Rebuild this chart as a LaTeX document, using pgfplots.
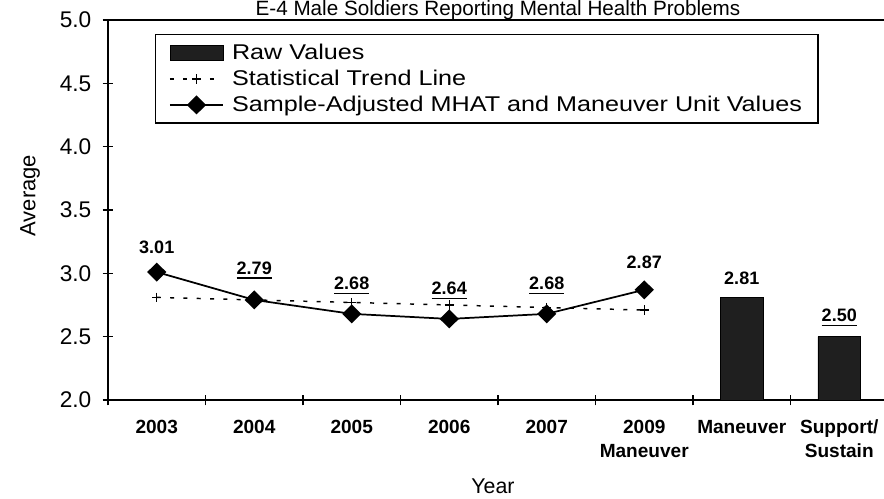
\documentclass[border=0pt]{standalone}
\usepackage{fontspec}
\setmainfont{Liberation Sans}
\newfontfamily\legfont[FakeStretch=1.18]{Liberation Sans}
\usepackage{pgfplots}
\pgfplotsset{compat=1.18}
\usetikzlibrary{calc}
\newcommand\ul[1]{\setbox0\hbox{#1}\rlap{\rule[-3.2pt]{\wd0}{1.1pt}}\box0}
\begin{document}
\begin{tikzpicture}
\begin{axis}[
  scale only axis,
  width=585pt, height=285pt,
  xmin=-0.5, xmax=7.5, ymin=2, ymax=5,
  axis line style={line width=1pt},
  ytick={2,2.5,3,3.5,4,4.5,5},
  xtick={-0.5,0.5,1.5,2.5,3.5,4.5,5.5,6.5,7.5},
  x tick label as interval,
  xticklabels={2003,2004,2005,2006,2007,{2009\\Maneuver},Maneuver,{Support/\\Sustain}},
  xticklabel style={align=center, font=\bfseries\fontsize{14.3}{18}\selectfont, yshift=-7.5pt},
  yticklabel style={font=\fontsize{17}{18}\selectfont, xshift=-5pt, /pgf/number format/.cd, fixed, fixed zerofill, precision=1, assume math mode=true},
  xtick pos=bottom, ytick pos=left,
  tick align=center,
  major tick length=8pt,
  tick style={black, line width=0.9pt},
  legend style={at={(rel axis cs:0.0603,0.963)}, anchor=north west, draw=black, line width=0.9pt,
     font=\legfont\fontsize{16}{18}\selectfont, row sep=2.5pt, inner xsep=10pt, inner ysep=5pt},
  legend cell align=left,
  legend image code/.code={\draw[mark repeat=2,mark phase=2,#1] plot coordinates {(0pt,0pt) (20pt,0pt) (40pt,0pt)}; \path (44pt,0pt);},
]
\addplot[ybar, bar width=32pt, fill=black!88, draw=black, line width=0.6pt,
  legend image code/.code={\draw[fill=black!88, draw=black, line width=0.5pt] (0pt,-5.5pt) rectangle (40pt,5.5pt); \path (44pt,0pt);}]
  coordinates {(6,2.81) (7,2.50)};
\addlegendentry{Raw Values}
\addplot[black, line width=1.1pt, dash pattern=on 3pt off 7pt, mark=+, mark size=3.5pt, mark options={solid, line width=1pt}]
  coordinates {(0,2.81) (1,2.79) (2,2.77) (3,2.75) (4,2.73) (5,2.71)};
\addlegendentry{Statistical Trend Line}
\addplot[black, line width=1.3pt, mark=diamond*, mark size=6.2pt, mark options={solid, xscale=1.35}]
  coordinates {(0,3.01) (1,2.79) (2,2.68) (3,2.64) (4,2.68) (5,2.87)};
\addlegendentry{Sample-Adjusted MHAT and Maneuver Unit Values}
\tikzset{lbl/.style={anchor=base, font=\bfseries\fontsize{13.5}{15}\selectfont}}
\node[lbl, yshift=14pt] at (axis cs:0,3.01) {3.01};
\node[lbl, yshift=19pt] at (axis cs:1,2.79) {\ul{2.79}};
\node[lbl, yshift=18pt] at (axis cs:2,2.68) {\ul{2.68}};
\node[lbl, yshift=18pt] at (axis cs:3,2.64) {\ul{2.64}};
\node[lbl, yshift=18pt] at (axis cs:4,2.68) {\ul{2.68}};
\node[lbl, yshift=16pt] at (axis cs:5,2.87) {2.87};
\node[lbl, yshift=9.5pt] at (axis cs:6,2.81) {2.81};
\node[lbl, yshift=11pt] at (axis cs:7,2.50) {\ul{2.50}};
\coordinate (SW) at (rel axis cs:0,0);
\coordinate (NE) at (rel axis cs:1,1);
\coordinate (T) at (rel axis cs:0.5,1);
\end{axis}
\node[anchor=base, font=\fontsize{15.5}{18}\selectfont] at ([yshift=3pt]T) {E-4 Male Soldiers Reporting Mental Health Problems};
\node[rotate=90, font=\fontsize{16.5}{18}\selectfont] at ($(SW)+(-58.5pt,153.3pt)$) {Average};
\node[font=\fontsize{16}{18}\selectfont] at ($(SW)+(288.75pt,-65pt)$) {Year};
\pgfresetboundingbox
\path[use as bounding box] ($(SW)+(-81pt,-74.25pt)$) rectangle ($(SW|-NE)+(582pt,15pt)$);
\end{tikzpicture}
\end{document}
